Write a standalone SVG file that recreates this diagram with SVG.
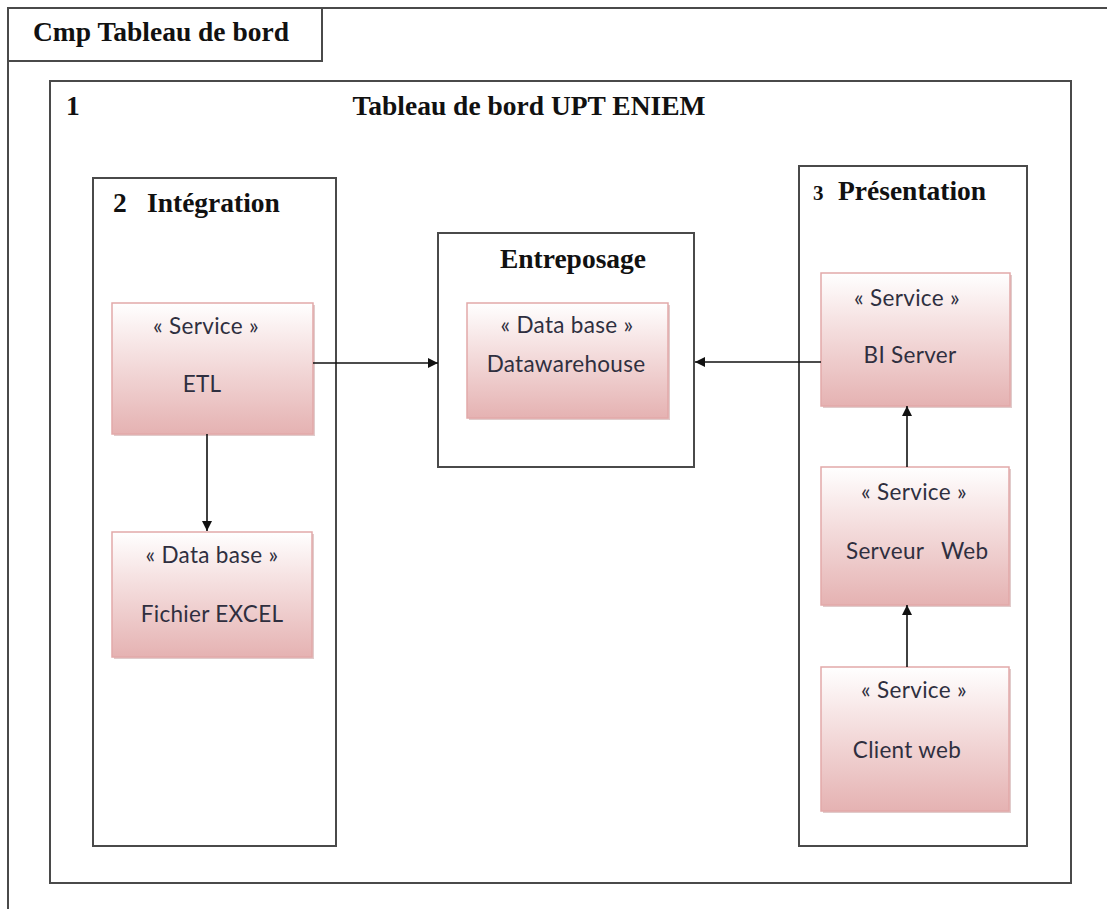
<svg xmlns="http://www.w3.org/2000/svg" width="1107" height="909" viewBox="0 0 1107 909">
  <style>
    .frame { fill: none; stroke: #4a4a4a; stroke-width: 2; }
    .pkg { fill: #ffffff; stroke: #4a4a4a; stroke-width: 2; }
    .comp { fill: url(#pink); stroke: #e2a9a9; stroke-width: 1.5; }
    .shadow { fill: #c8a0a0; opacity: 0.55; }
    .head { font-family: "Liberation Serif", "Times New Roman", serif; font-weight: bold; font-size: 27.5px; fill: #111111; }
    .lbl { font-family: Lato, "Open Sans", sans-serif; font-size: 22.5px; letter-spacing: 0.3px; fill: #2f2f3f; text-anchor: middle; }
    .lbl.start { text-anchor: start; }
    .wire { fill: none; stroke: #111111; stroke-width: 1.6; }
  </style>
  <defs>
    <linearGradient id="pink" x1="0" y1="0" x2="0" y2="1">
      <stop offset="0" stop-color="#ffffff"/>
      <stop offset="0.35" stop-color="#f6e3e3"/>
      <stop offset="1" stop-color="#e5b2b2"/>
    </linearGradient>
    <marker id="arrow" viewBox="0 0 10 10" refX="10" refY="5" markerWidth="10" markerHeight="10" markerUnits="userSpaceOnUse" orient="auto">
      <path d="M0,0 L10,5 L0,10 z" fill="#111111"/>
    </marker>
  </defs>

  <rect width="1107" height="909" fill="#ffffff"/>

  <!-- outer component frame with name tab -->
  <g id="cmp-frame">
    <path class="frame" d="M8,909 V8 H1107"/>
    <path class="frame" d="M8,61 H322 V8"/>
    <text class="head" x="33" y="41">Cmp Tableau de bord</text>
  </g>

  <!-- 1: dashboard system -->
  <g id="pkg-tableau">
    <rect class="pkg" x="50" y="81" width="1021" height="802"/>
    <text class="head" x="66" y="115">1</text>
    <text class="head" x="529" y="115" text-anchor="middle">Tableau de bord UPT ENIEM</text>
  </g>

  <!-- 2: integration -->
  <g id="pkg-integration">
    <rect class="pkg" x="93" y="178" width="243" height="668"/>
    <text class="head" y="212"><tspan x="113">2</tspan><tspan x="147">Intégration</tspan></text>
  </g>

  <!-- storage -->
  <g id="pkg-entreposage">
    <rect class="pkg" x="438" y="233" width="256" height="234"/>
    <text class="head" x="573" y="268" text-anchor="middle">Entreposage</text>
  </g>

  <!-- 3: presentation -->
  <g id="pkg-presentation">
    <rect class="pkg" x="799" y="166" width="228" height="680"/>
    <text class="head" y="200"><tspan x="813" font-size="21">3</tspan><tspan x="838">Présentation</tspan></text>
  </g>

  <g id="etl">
    <rect class="shadow" x="114" y="305" width="201" height="131"/>
    <rect class="comp" x="112" y="303" width="201" height="131"/>
    <text class="lbl" x="206" y="334">« Service »</text>
    <text class="lbl" x="202" y="392">ETL</text>
  </g>

  <g id="fichier-excel">
    <rect class="shadow" x="114" y="534" width="200" height="125"/>
    <rect class="comp" x="112" y="532" width="200" height="125"/>
    <text class="lbl" x="212" y="563">« Data base »</text>
    <text class="lbl" x="212" y="622">Fichier EXCEL</text>
  </g>

  <g id="datawarehouse">
    <rect class="shadow" x="469" y="305" width="201" height="115"/>
    <rect class="comp" x="467" y="303" width="201" height="115"/>
    <text class="lbl" x="567" y="333">« Data base »</text>
    <text class="lbl" x="566" y="372">Datawarehouse</text>
  </g>

  <g id="bi-server">
    <rect class="shadow" x="823" y="275" width="189" height="133"/>
    <rect class="comp" x="821" y="273" width="189" height="133"/>
    <text class="lbl" x="907" y="306">« Service »</text>
    <text class="lbl" x="910" y="363">BI Server</text>
  </g>

  <g id="serveur-web">
    <rect class="shadow" x="823" y="469" width="188" height="138"/>
    <rect class="comp" x="821" y="467" width="188" height="138"/>
    <text class="lbl" x="914" y="500">« Service »</text>
    <text class="lbl start" y="559"><tspan x="846">Serveur</tspan><tspan x="941">Web</tspan></text>
  </g>

  <g id="client-web">
    <rect class="shadow" x="823" y="669" width="188" height="144"/>
    <rect class="comp" x="821" y="667" width="188" height="144"/>
    <text class="lbl" x="914" y="698">« Service »</text>
    <text class="lbl" x="907" y="758">Client web</text>
  </g>

  <!-- dependencies -->
  <g id="connectors">
    <path class="wire" d="M313,363 H438" marker-end="url(#arrow)"/>
    <path class="wire" d="M821,362 H695" marker-end="url(#arrow)"/>
    <path class="wire" d="M207,434 V531" marker-end="url(#arrow)"/>
    <path class="wire" d="M907,467 V406" marker-end="url(#arrow)"/>
    <path class="wire" d="M907,667 V605" marker-end="url(#arrow)"/>
  </g>
</svg>
